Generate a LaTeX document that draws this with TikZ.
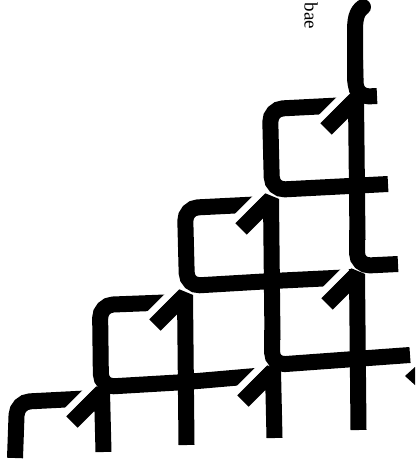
\documentclass[tikz,border=0pt]{standalone}
\usepackage{fontspec}
\setmainfont{Liberation Serif}

% harpoon: tip at (#1,#2), barb down to the left, stem down to y=#3
\newcommand{\harp}[3]{\draw[pipe, line join=bevel] ({#1-30},{#2+30}) -- (#1,#2) -- ({#1+1.5},#3);}
% the white cut that bevels a top edge just before its harpoon
\newcommand{\notch}[2]{\draw[gap] ({#1-10.1},{#2-6.1}) -- ({#1-36.1},{#2+19.9});}

\begin{document}
\begin{tikzpicture}[x=1pt, y=-1pt,
  pipe/.style={line width=16pt, line cap=butt, draw=black},
  elbow/.style={pipe, rounded corners=13pt},
  gap/.style={line width=7pt, draw=white, line cap=butt},
]
\useasboundingbox (0,0) rectangle (420,463);

% ---------------------------- lower left corner ---------------------------
\draw[elbow] (15,458) -- (17,402) -- (95,398);
\notch{102}{392}

% ---------------------------- box on c1--c2 -------------------------------
\draw[elbow] (178,302) -- (100,305) -- (101,387) -- (186,382) -- (267,375);
\notch{185}{295}
\notch{273}{371}

% ---------------------------- box on c2--c3 -------------------------------
\draw[elbow] (265,204) -- (185,208) -- (187,286) -- (272,281) -- (354,277);
\notch{271}{199}
\notch{357}{274}

% ---------------------------- box on c3--c4 -------------------------------
\draw[elbow] (348,105) -- (270,109) -- (272,190) -- (388,184);
\notch{356}{99}

% ---------------------------- harpoons ------------------------------------
\harp{102}{392}{452}
\harp{185}{295}{445}
\harp{271}{199}{340}
\harp{273}{371}{438}
\harp{356}{99}{240}
\harp{357}{274}{430}

% ---------------------------- elbows on the right -------------------------
\draw[elbow] (357,230) -- (357,266) -- (398,264);
\draw[elbow] (272,330) -- (272,365) -- (410,355);
\draw[pipe, line cap=round] (363,7) .. controls (356,12) and (355,20) .. (355,32)
  -- (355,80);
\draw[elbow] (355,60) -- (356,97) -- (377,96);
\fill (405,376) -- (415,367) -- (415,385) -- cycle;

% ---------------------------- label ---------------------------------------
\node[rotate=-90, font=\fontsize{19}{19}\selectfont, inner sep=0pt] (tag) at (311,16) {bae};

\end{tikzpicture}
\end{document}
